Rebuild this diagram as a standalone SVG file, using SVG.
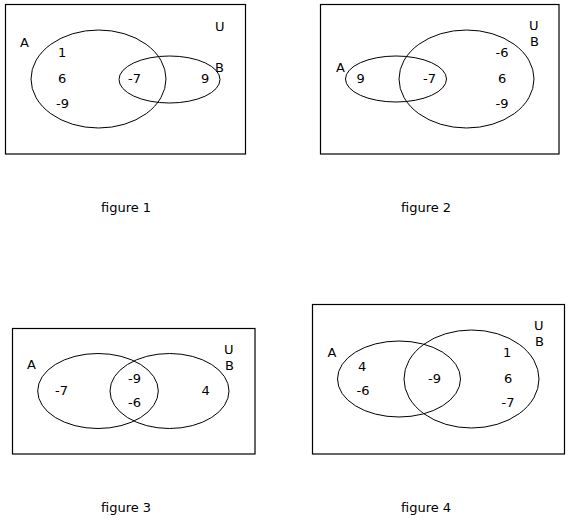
<svg xmlns="http://www.w3.org/2000/svg" width="569" height="522" viewBox="0 0 569 522">
<style>
.box{fill:none;stroke:#000;stroke-width:1.2}
.set{fill:none;stroke:#000;stroke-width:1}
text{font-family:"DejaVu Sans",Verdana,sans-serif;font-size:13px;fill:#000}
</style>
<rect width="569" height="522" fill="#fff"/>
<g id="figure1">
<rect class="box" x="5.5" y="4.5" width="240" height="149.5"/>
<ellipse class="set" cx="98.5" cy="79" rx="67.5" ry="49"/>
<ellipse class="set" cx="169.5" cy="79.5" rx="50.5" ry="23.5"/>
<text x="20" y="47">A</text>
<text x="215" y="31">U</text>
<text x="215" y="72">B</text>
<text x="58" y="57">1</text>
<text x="58" y="83">6</text>
<text x="56" y="108">-9</text>
<text x="128" y="83">-7</text>
<text x="201" y="83">9</text>
<text x="101" y="212">figure 1</text>
</g>
<g id="figure2">
<rect class="box" x="320.5" y="4.5" width="238.5" height="149.5"/>
<ellipse class="set" cx="396" cy="79" rx="50.5" ry="23"/>
<ellipse class="set" cx="466.5" cy="79" rx="67.5" ry="49"/>
<text x="336" y="72">A</text>
<text x="529" y="30">U</text>
<text x="530" y="46">B</text>
<text x="356.5" y="83">9</text>
<text x="423" y="83">-7</text>
<text x="495.5" y="57">-6</text>
<text x="498" y="83">6</text>
<text x="495.5" y="108">-9</text>
<text x="401" y="212">figure 2</text>
</g>
<g id="figure3">
<rect class="box" x="12.5" y="328.5" width="242.5" height="125.5"/>
<ellipse class="set" cx="98" cy="391" rx="60.3" ry="37.5"/>
<ellipse class="set" cx="169.5" cy="391" rx="59.5" ry="37.5"/>
<text x="27" y="369">A</text>
<text x="224" y="354">U</text>
<text x="225" y="370">B</text>
<text x="55" y="395">-7</text>
<text x="128" y="383">-9</text>
<text x="128" y="407">-6</text>
<text x="201.5" y="395">4</text>
<text x="101" y="512">figure 3</text>
</g>
<g id="figure4">
<rect class="box" x="312.5" y="304.5" width="252" height="149.5"/>
<ellipse class="set" cx="399" cy="379" rx="61.5" ry="38"/>
<ellipse class="set" cx="471.5" cy="379" rx="67.5" ry="49"/>
<text x="327.5" y="357">A</text>
<text x="534" y="330">U</text>
<text x="535" y="346">B</text>
<text x="358" y="371">4</text>
<text x="356.5" y="395">-6</text>
<text x="428" y="383">-9</text>
<text x="503" y="357">1</text>
<text x="504" y="383">6</text>
<text x="501.5" y="407">-7</text>
<text x="401" y="512">figure 4</text>
</g>
<g id="connectors"></g>
</svg>
